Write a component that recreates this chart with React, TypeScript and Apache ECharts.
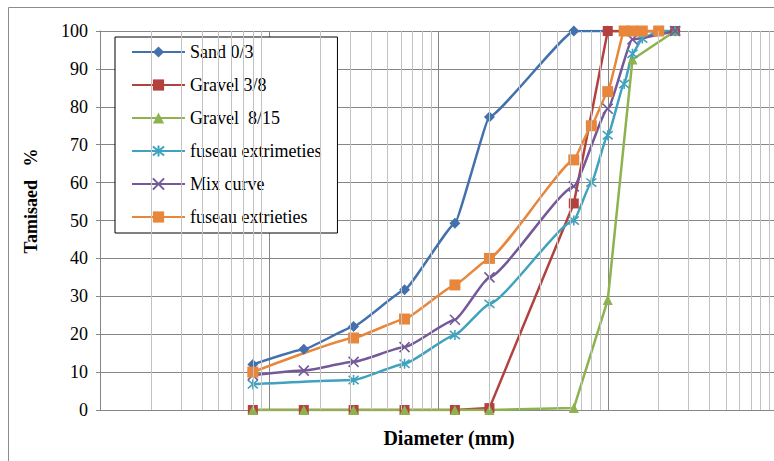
import React, { useEffect, useRef } from "react";
import * as echarts from "echarts";

// Sieve sizes (mm) and passing percentages
const sandSieves = [0.08, 0.16, 0.315, 0.63, 1.25, 2, 6.3, 10, 25];
const sandValues = [12, 16, 22, 31.7, 49.3, 77.3, 100, 100, 100];

const gravel38Sieves = [0.08, 0.16, 0.315, 0.63, 1.25, 2, 6.3, 10, 25];
const gravel38Values = [0, 0, 0, 0, 0, 0.5, 54.5, 100, 100];

const gravel815Sieves = [0.08, 0.16, 0.315, 0.63, 1.25, 2, 6.3, 10, 14, 25];
const gravel815Values = [0, 0, 0, 0, 0, 0, 0.5, 29, 92.5, 100];

const fuseauLowSieves = [0.08, 0.315, 0.63, 1.25, 2, 6.3, 8, 10, 12.5, 14, 16, 20, 25];
const fuseauLowValues = [6.8, 7.9, 12.2, 19.8, 28, 50, 60, 72.5, 86, 94, 98, 100, 100];

const mixSieves = [0.08, 0.16, 0.315, 0.63, 1.25, 2, 6.3, 10, 14, 25];
const mixValues = [9.2, 10.4, 12.7, 16.6, 23.8, 35, 59, 79.5, 97.8, 100];

const fuseauHighSieves = [0.08, 0.315, 0.63, 1.25, 2, 6.3, 8, 10, 12.5, 14, 16, 20];
const fuseauHighValues = [10, 19, 24, 33, 40, 66, 75, 84, 100, 100, 100, 100];

const seriesNames = [
  "Sand 0/3",
  "Gravel 3/8",
  "Gravel  8/15",
  "fuseau extrimeties",
  "Mix curve",
  "fuseau extrieties",
];

const yTicks = [0, 10, 20, 30, 40, 50, 60, 70, 80, 90, 100];
const decades = [0.01, 0.1, 1, 10];
const minorMultipliers = [2, 3, 4, 5, 6, 7, 8, 9];

const xTitle = "Diameter (mm)";
const yTitle = "Tamisaed   %";

const zip = (xs: number[], ys: number[]) => xs.map((x, i) => [x, ys[i]]);

const FONT = "Liberation Serif";

const ASTERISK = "path://M5,0L5,10M0.9,0.9L9.1,9.1M9.1,0.9L0.9,9.1";
const CROSS = "path://M0,0L10,10M10,0L0,10";

export default function App() {
  const ref = useRef<HTMLDivElement>(null);

  useEffect(() => {
    const chart = echarts.init(ref.current!, null, { renderer: "svg" });

    const minorValues: number[] = [];
    decades.forEach((d) => minorMultipliers.forEach((m) => minorValues.push(+(d * m).toPrecision(6))));

    const colors = ["#4371AE", "#B3413E", "#8DB24E", "#3FA2BE", "#74589A", "#E8863B"];
    const symbols = ["diamond", "rect", "triangle", ASTERISK, CROSS, "rect"];
    const sizes = [11, 10, 10, 10, 10, 11];
    const smooths = [0.1, 0, 0, 0.15, 0.15, 0.12];
    const datasets = [
      zip(sandSieves, sandValues),
      zip(gravel38Sieves, gravel38Values),
      zip(gravel815Sieves, gravel815Values),
      zip(fuseauLowSieves, fuseauLowValues),
      zip(mixSieves, mixValues),
      zip(fuseauHighSieves, fuseauHighValues),
    ];

    const dataSeries = datasets.map((data, i) => {
      const isPath = i === 3 || i === 4;
      return {
        name: seriesNames[i],
        type: "line",
        data,
        smooth: smooths[i],
        smoothMonotone: "x",
        symbol: symbols[i],
        symbolSize: sizes[i],
        showAllSymbol: true,
        z: 3,
        lineStyle: { color: colors[i], width: 2.5 },
        itemStyle: isPath
          ? { color: colors[i], borderColor: colors[i], borderWidth: 1.6 }
          : { color: colors[i], borderWidth: 0 },
        emphasis: { disabled: true },
      };
    });

    const option: any = {
      animation: false,
      backgroundColor: "#ffffff",
      textStyle: { fontFamily: FONT },
      grid: { left: 100, top: 31, right: 23, bottom: 51, containLabel: false },
      legend: {
        orient: "vertical",
        left: 115,
        top: 37,
        padding: [6, 16, 7, 16],
        itemWidth: 53,
        itemHeight: 14,
        itemGap: 15,
        backgroundColor: "#ffffff",
        borderColor: "#000000",
        borderWidth: 1,
        borderRadius: 0,
        selectedMode: false,
        data: seriesNames,
        textStyle: { fontFamily: FONT, fontSize: 18, color: "#000000" },
      },
      xAxis: {
        type: "log",
        logBase: 10,
        min: 0.01,
        max: 100,
        axisLine: { show: true, onZero: false, lineStyle: { color: "#868686", width: 1 } },
        axisTick: { show: false },
        axisLabel: { show: false },
        splitLine: { show: true, lineStyle: { color: "#868686", width: 1 } },
      },
      yAxis: {
        type: "value",
        min: yTicks[0],
        max: yTicks[yTicks.length - 1],
        interval: 10,
        axisLine: { show: true, lineStyle: { color: "#868686", width: 1 } },
        axisTick: { show: true, length: 4, lineStyle: { color: "#868686" } },
        axisLabel: { fontFamily: FONT, fontSize: 18, color: "#000000", margin: 12 },
        splitLine: { show: true, lineStyle: { color: "#868686", width: 1 } },
      },
      graphic: [
        {
          type: "rect",
          silent: true,
          z: -10,
          shape: { x: 8.5, y: 7.5, width: 1200, height: 1200 },
          style: { fill: "none", stroke: "#8c8c8c", lineWidth: 1 },
        },
        {
          type: "text",
          x: 31,
          y: 201,
          rotation: Math.PI / 2,
          style: {
            text: yTitle,
            font: `bold 18px ${FONT}`,
            fill: "#000000",
            textAlign: "center",
            textVerticalAlign: "middle",
            align: "center",
            verticalAlign: "middle",
          },
        },
        {
          type: "text",
          x: 449,
          y: 438,
          style: {
            text: xTitle,
            font: `bold 20px ${FONT}`,
            fill: "#000000",
            textAlign: "center",
            textVerticalAlign: "middle",
            align: "center",
            verticalAlign: "middle",
          },
        },
      ],
      series: [
        {
          name: "minor-grid",
          type: "line",
          data: [],
          z: 1,
          silent: true,
          markLine: {
            silent: true,
            symbol: "none",
            label: { show: false },
            emphasis: { disabled: true },
            lineStyle: { color: "#c2c2c2", type: "solid", width: 1 },
            data: minorValues.map((v) => ({ xAxis: v })),
          },
        },
        ...dataSeries,
      ],
    };

    chart.setOption(option);
    return () => chart.dispose();
  }, []);

  return (
    <div
      style={{
        position: "absolute",
        left: 0,
        top: 0,
        width: 774,
        height: 461,
        overflow: "hidden",
        background: "#ffffff",
      }}
    >
      <div ref={ref} style={{ width: 800, height: 461 }} />
    </div>
  );
}
